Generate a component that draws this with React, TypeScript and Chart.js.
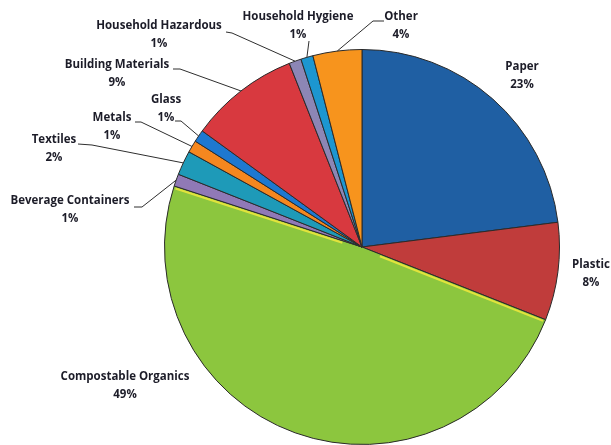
import React, { useEffect, useRef } from 'react';
import { Chart, registerables } from 'chart.js';

Chart.register(...registerables);

const categories = [
  'Paper',
  'Plastic',
  'Compostable Organics',
  'Beverage Containers',
  'Textiles',
  'Metals',
  'Glass',
  'Building Materials',
  'Household Hazardous',
  'Household Hygiene',
  'Other',
];
const values = [23, 8, 49, 1, 2, 1, 1, 9, 1, 1, 4];
const percentLabels = ['23%', '8%', '49%', '1%', '2%', '1%', '1%', '9%', '1%', '1%', '4%'];

const sliceColors = [
  '#1f5fa3',
  '#c03c3b',
  '#8cc63e',
  '#9079b6',
  '#1e9ab8',
  '#f5871f',
  '#1e78d0',
  '#d8393f',
  '#8c86b5',
  '#1c96d0',
  '#f7941d',
];

// layout: label centre (name line) and leader-line start points (pixels)
const labelPos: [number, number][] = [
  [522, 67],
  [591, 265],
  [125, 377],
  [70, 201],
  [54, 140],
  [112, 118],
  [166, 100],
  [117, 65],
  [159, 26],
  [298, 17],
  [401, 17],
];
const leaderStarts: [number, number][][] = [
  [],
  [],
  [],
  [[134, 207], [142, 207]],
  [[78, 144], [92, 145]],
  [[135, 122], [141, 122]],
  [[175, 121], [181, 121]],
  [[173, 69], [180, 69]],
  [[226, 32], [232, 33]],
  [[309, 41]],
  [[384, 21], [373, 21]],
];

const labelPlugin = {
  id: 'pieLabels',
  afterDatasetsDraw(chart: any) {
    const ctx = chart.ctx;
    const meta = chart.getDatasetMeta(0);
    ctx.save();
    // bevel highlight on the large organics slice edges
    const big: any = meta.data[2];
    if (big) {
      const { x, y, startAngle, endAngle, outerRadius } = big.getProps(
        ['x', 'y', 'startAngle', 'endAngle', 'outerRadius'],
        true
      );
      ctx.strokeStyle = 'rgba(235,230,60,0.9)';
      ctx.lineWidth = 2;
      const inset = 2;
      [startAngle, endAngle].forEach((a: number, k: number) => {
        const nx = -Math.sin(a) * (k === 0 ? inset : -inset);
        const ny = Math.cos(a) * (k === 0 ? inset : -inset);
        ctx.beginPath();
        ctx.moveTo(x + nx + Math.cos(a) * 20, y + ny + Math.sin(a) * 20);
        ctx.lineTo(x + nx + Math.cos(a) * (outerRadius - 2), y + ny + Math.sin(a) * (outerRadius - 2));
        ctx.stroke();
      });
    }
    meta.data.forEach((arc: any, i: number) => {
      const { x, y, startAngle, endAngle, outerRadius } = arc.getProps(
        ['x', 'y', 'startAngle', 'endAngle', 'outerRadius'],
        true
      );
      const mid = (startAngle + endAngle) / 2;
      const ex = x + Math.cos(mid) * outerRadius;
      const ey = y + Math.sin(mid) * outerRadius;
      const pts = leaderStarts[i];
      if (pts.length) {
        ctx.beginPath();
        ctx.strokeStyle = '#2e2e2e';
        ctx.lineWidth = 1;
        ctx.moveTo(pts[0][0], pts[0][1]);
        for (let k = 1; k < pts.length; k++) ctx.lineTo(pts[k][0], pts[k][1]);
        ctx.lineTo(ex, ey);
        ctx.stroke();
      }
      const [lx, ly] = labelPos[i];
      ctx.fillStyle = '#1c1c28';
      ctx.font = "bold 11.5px 'Open Sans'";
      ctx.textAlign = 'center';
      ctx.textBaseline = 'middle';
      ctx.fillText(categories[i], lx, ly);
      ctx.fillText(percentLabels[i], lx, ly + 18);
    });
    ctx.restore();
  },
};

export default function App() {
  const canvasRef = useRef<HTMLCanvasElement | null>(null);

  useEffect(() => {
    const canvas = canvasRef.current;
    if (!canvas) return;
    const chart = new Chart(canvas, {
      type: 'pie',
      data: {
        labels: categories,
        datasets: [
          {
            data: values,
            backgroundColor: sliceColors,
            borderColor: '#2a2a2a',
            borderWidth: 1,
          },
        ],
      },
      options: {
        responsive: false,
        animation: false,
        layout: { padding: { left: 164, right: 51, top: 49, bottom: 0 } },
        plugins: {
          legend: { display: false },
          tooltip: { enabled: false },
        },
        events: [],
      },
      plugins: [labelPlugin],
    });
    return () => chart.destroy();
  }, []);

  return (
    <div style={{ position: 'absolute', left: 0, top: 0, width: 611, height: 445, background: '#fff' }}>
      <canvas ref={canvasRef} width={611} height={445} style={{ width: 611, height: 445 }} />
    </div>
  );
}
